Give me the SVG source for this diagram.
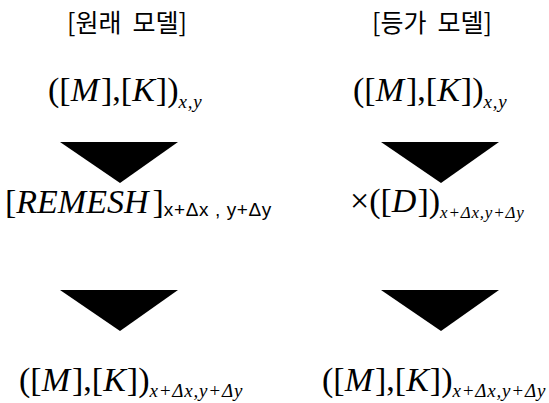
<svg xmlns="http://www.w3.org/2000/svg" width="549" height="403" viewBox="0 0 549 403">
<style>
.t{font-family:"Noto Sans CJK KR","Noto Sans",sans-serif;font-size:25px;fill:#000}
.f{font-family:"Liberation Serif","Times New Roman",serif;font-size:34px;fill:#000}
.i{font-style:italic}
.s{font-family:"Liberation Serif","Times New Roman",serif;font-size:19px;font-style:italic;letter-spacing:0.8px}
.ss{font-family:"Liberation Sans",Arial,sans-serif;font-size:19px;font-style:normal;letter-spacing:0.6px}
.arrow{fill:#000}
</style>
<rect width="549" height="403" fill="#fff"/>
<g id="title-left"><text class="t" x="127" y="32" text-anchor="middle" xml:space="preserve">[원래  모델]</text></g>
<g id="title-right"><text class="t" x="432" y="32" text-anchor="middle" xml:space="preserve">[등가  모델]</text></g>
<g id="left-top"><text class="f" x="48" y="101">([<tspan class="i">M</tspan><tspan dx="2">]</tspan>,[<tspan class="i">K</tspan><tspan dx="1">])</tspan><tspan class="s" dy="7" letter-spacing="2">x,y</tspan></text></g>
<g id="right-top"><text class="f" x="353" y="101">([<tspan class="i">M</tspan><tspan dx="2">]</tspan>,[<tspan class="i">K</tspan><tspan dx="1">])</tspan><tspan class="s" dy="7" letter-spacing="2">x,y</tspan></text></g>
<g id="left-mid"><text class="f" x="5" y="213">[<tspan class="i">REMESH</tspan><tspan dx="4">]</tspan><tspan class="ss" dy="3">x+Δx , y+Δy</tspan></text></g>
<g id="right-mid"><text class="f" x="350" y="212">×([<tspan class="i">D</tspan><tspan dx="1">])</tspan><tspan class="s" dy="6" style="font-size:17px">x+Δx,y+Δy</tspan></text></g>
<g id="left-bottom"><text class="f" x="19" y="391">([<tspan class="i">M</tspan><tspan dx="2">]</tspan>,[<tspan class="i">K</tspan><tspan dx="1">])</tspan><tspan class="s" dy="6">x+Δx,y+Δy</tspan></text></g>
<g id="right-bottom"><text class="f" x="322" y="391">([<tspan class="i">M</tspan><tspan dx="2">]</tspan>,[<tspan class="i">K</tspan><tspan dx="1">])</tspan><tspan class="s" dy="6">x+Δx,y+Δy</tspan></text></g>
<g id="connectors">
<polygon class="arrow" points="60,142 178,142 120,183"/>
<polygon class="arrow" points="381,142 499,142 441,183"/>
<polygon class="arrow" points="60,290 178,290 120,331"/>
<polygon class="arrow" points="381,290 499,290 441,331"/>
</g>
</svg>
